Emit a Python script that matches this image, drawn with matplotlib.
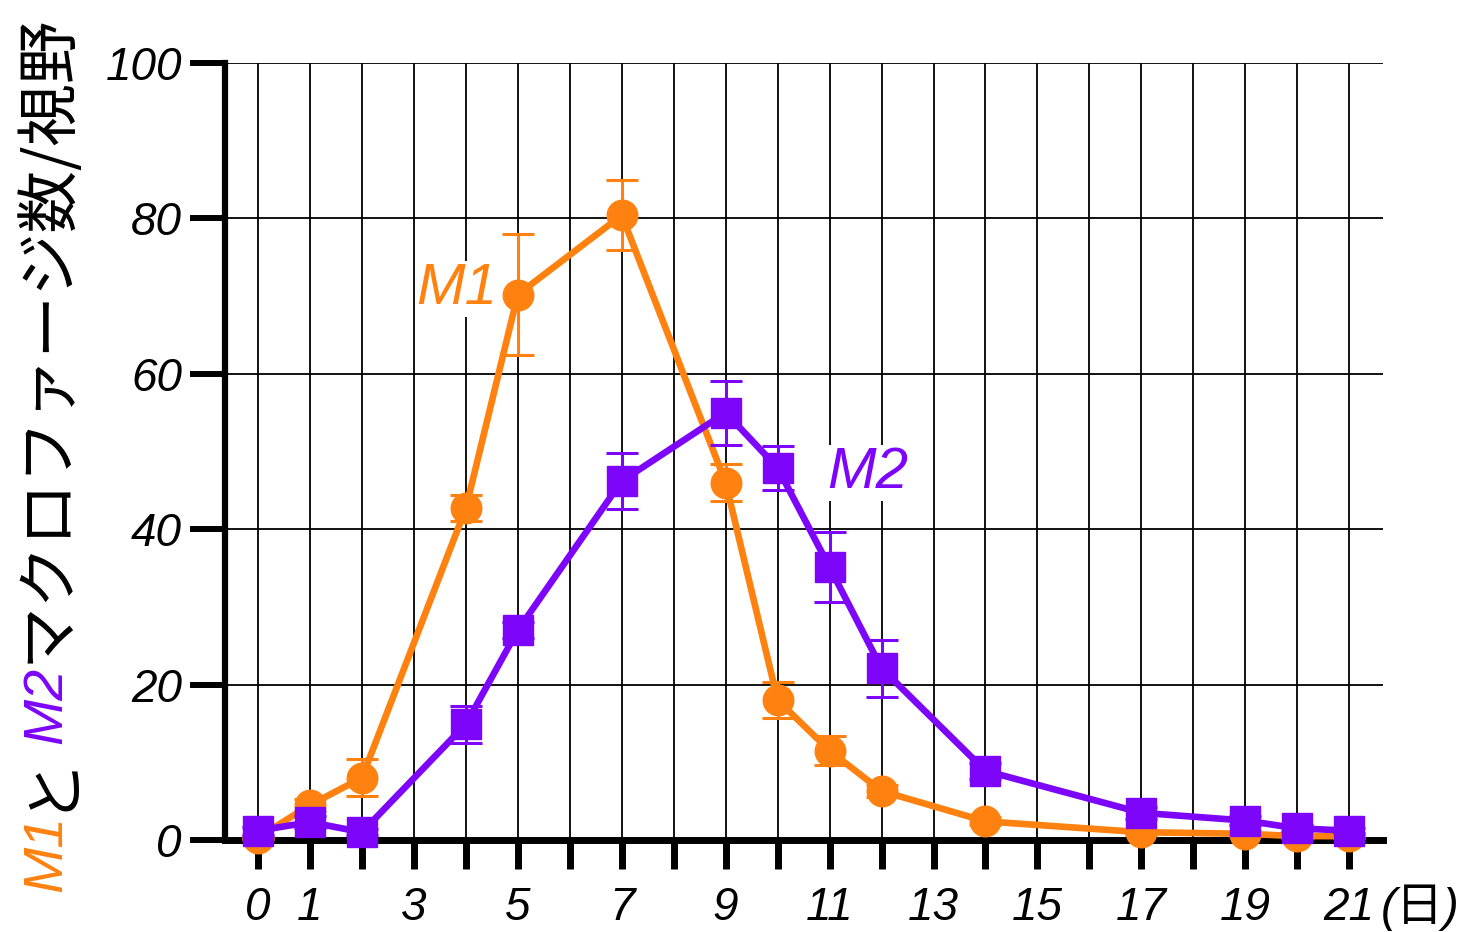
import matplotlib
matplotlib.use("Agg")
import matplotlib.pyplot as plt
from matplotlib import font_manager
import numpy as np

# --- data ---
days = [0, 1, 2, 4, 5, 7, 9, 10, 11, 12, 14, 17, 19, 20, 21]
m1_mean = [0.3, 4.5, 8.0, 42.7, 70.2, 80.4, 46.0, 18.0, 11.5, 6.3, 2.4, 1.0, 0.8, 0.5, 0.5]
m1_sem = [0.2, 0.8, 2.4, 1.7, 7.8, 4.5, 2.4, 2.3, 1.9, 0.8, 0.5, 0.3, 0.3, 0.2, 0.2]
m2_mean = [1.2, 2.3, 1.0, 14.9, 27.0, 46.2, 55.0, 47.9, 35.1, 22.1, 8.9, 3.5, 2.5, 1.5, 1.2]
m2_sem = [0.5, 0.8, 0.4, 2.4, 1.0, 3.6, 4.1, 2.8, 4.5, 3.7, 1.0, 0.8, 0.6, 0.4, 0.3]

xtick_pos = list(range(0, 22))
xtick_lab = ["0", "1", "", "3", "", "5", "", "7", "", "9", "", "11", "", "13",
             "", "15", "", "17", "", "19", "", "21"]
ytick_pos = [0, 20, 40, 60, 80, 100]

ORANGE = "#FF8210"
PURPLE = "#7C05FA"

installed = {f.name for f in font_manager.fontManager.ttflist}
narrow = "Liberation Sans Narrow" if "Liberation Sans Narrow" in installed else "Liberation Sans"
JP = "Noto Sans CJK JP"

fig = plt.figure(figsize=(14.69, 9.32), dpi=100)
ax = fig.add_axes([225 / 1469, 1 - 840 / 932, (1383 - 225) / 1469, (840 - 63) / 932])

ax.set_xlim(-0.635, 21.65)
ax.set_ylim(0, 100)

ax.errorbar(days, m1_mean, yerr=m1_sem, color=ORANGE, lw=4.8, marker="o", ms=22,
            elinewidth=2.2, capsize=11.5, capthick=2.2, zorder=3, clip_on=False)
ax.errorbar(days, m2_mean, yerr=m2_sem, color=PURPLE, lw=4.8, marker="s", ms=22,
            elinewidth=2.2, capsize=11.5, capthick=2.2, zorder=4, clip_on=False)

ax.set_xticks(xtick_pos)
ax.set_xticklabels(xtick_lab)
ax.set_yticks(ytick_pos)
ax.set_yticklabels([str(v) for v in ytick_pos])
ax.grid(True, color="black", lw=1.3, zorder=1)
ax.set_axisbelow(True)

for s in ["top", "right"]:
    ax.spines[s].set_visible(False)
ax.spines["left"].set_linewidth(4.5)
ax.spines["bottom"].set_linewidth(5)
ax.tick_params(axis="y", length=25, width=4.3, pad=6)
ax.tick_params(axis="x", length=21, width=5, pad=12)
for lab in ax.get_xticklabels() + ax.get_yticklabels():
    lab.set_fontfamily("Liberation Sans")
    lab.set_fontstyle("italic")
    lab.set_fontsize(33)

ax.text(21.6, -8.7, "(日)", ha="left", va="center", fontsize=34, style="italic",
        family=["Liberation Sans", JP], clip_on=False)

# series labels
ax.text(3.83, 70.9, "M1", color=ORANGE, fontsize=42, style="italic", family=narrow,
        ha="center", va="center", zorder=2,
        bbox=dict(facecolor="white", edgecolor="none", pad=1))
ax.text(11.74, 47.2, "M2", color=PURPLE, fontsize=42, style="italic", family=narrow,
        ha="center", va="center", zorder=2,
        bbox=dict(facecolor="white", edgecolor="none", pad=1))

# multicolour rotated y label
pieces = [("M1", ORANGE, [narrow]), ("と", "black", [JP]), ("M2", PURPLE, [narrow]),
          ("マクロファージ数/視野", "black", [JP, "DejaVu Sans"])]
prev = None
for txt, col, fam in pieces:
    kw = dict(rotation=90, color=col, fontsize=45, family=fam, ha="center", va="bottom",
              annotation_clip=False)
    if fam[0] == narrow:
        kw["style"] = "italic"
        kw["fontsize"] = 40
    if prev is None:
        prev = ax.annotate(txt, xy=(47 / 1469, 1 - 892 / 932), xycoords="figure fraction", **kw)
    else:
        prev = ax.annotate(txt, xy=(0.5, 1), xycoords=prev, xytext=(0, 3),
                           textcoords="offset points", **kw)

fig.savefig("out.png", dpi=100)
